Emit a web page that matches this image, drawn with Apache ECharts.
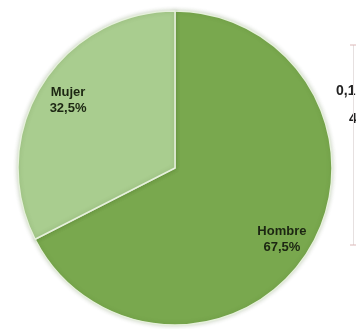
<!DOCTYPE html>
<html>
<head>
<meta charset="utf-8">
<script src="https://cdn.jsdelivr.net/npm/echarts@6/dist/echarts.min.js"></script>
<style>
  html, body { margin: 0; padding: 0; background: #ffffff; }
  #chart { width: 356px; height: 329px; }
</style>
</head>
<body>
<div id="chart"></div>
<script>
// Distribución por sexo
const categories = ['Hombre', 'Mujer'];
const shares = [67.5, 32.5];
const sliceColors = ['#79a84e', '#a9cd8f'];

const data = categories.map((name, i) => ({
  name: name,
  value: shares[i],
  itemStyle: { color: sliceColors[i] }
}));

const fmt = p => p.name + '\n' + p.value.toFixed(1).replace('.', ',') + '%';

const chart = echarts.init(document.getElementById('chart'), null, { renderer: 'canvas' });
chart.setOption({
  backgroundColor: '#ffffff',
  animation: false,
  series: [
    {
      // filled slices
      type: 'pie',
      center: [175, 168],
      radius: [0, 157],
      startAngle: 90,
      clockwise: true,
      silent: true,
      itemStyle: {
        borderColor: '#e6f0dc',
        borderWidth: 1.5,
        shadowColor: 'rgba(60,90,30,0.25)',
        shadowBlur: 4
      },
      label: { show: false },
      labelLine: { show: false },
      data: data
    },
    {
      // transparent ring carrying the labels toward the outer rim
      type: 'pie',
      center: [175, 168],
      radius: [92, 157],
      startAngle: 88.5,
      clockwise: true,
      silent: true,
      itemStyle: { color: 'rgba(0,0,0,0)', borderWidth: 0 },
      label: {
        show: true,
        position: 'inside',
        formatter: fmt,
        fontFamily: 'Liberation Sans',
        fontWeight: 'bold',
        fontSize: 13,
        lineHeight: 16,
        color: '#1c2612'
      },
      labelLayout: { dy: 2 },
      labelLine: { show: false },
      data: categories.map((name, i) => ({ name: name, value: shares[i] }))
    }
  ],
  graphic: [
    { type: 'text', left: 336, top: 84, style: { text: '0,1', font: 'bold 14px "Liberation Sans"', fill: '#222' } },
    { type: 'text', left: 349, top: 112, style: { text: '4', font: 'bold 14px "Liberation Sans"', fill: '#222' } },
    { type: 'line', shape: { x1: 353.5, y1: 45, x2: 353.5, y2: 245 }, style: { stroke: '#e6e0e0', lineWidth: 1 } },
    { type: 'line', shape: { x1: 350, y1: 45, x2: 356, y2: 45 }, style: { stroke: '#dcb8b8', lineWidth: 1 } },
    { type: 'line', shape: { x1: 350, y1: 245, x2: 356, y2: 245 }, style: { stroke: '#dcb8b8', lineWidth: 1 } }
  ]
});
</script>
</body>
</html>
